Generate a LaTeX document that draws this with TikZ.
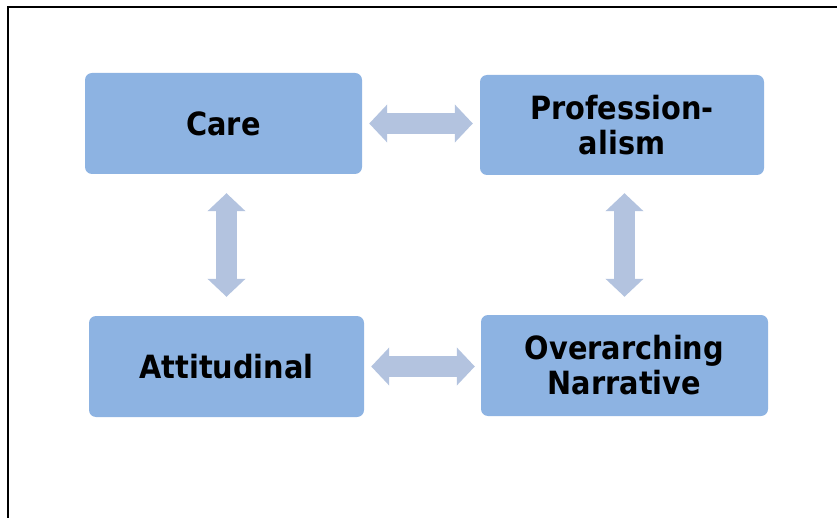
\documentclass[tikz,border=0pt]{standalone}
\usepackage{fontspec}
\setmainfont{DejaVu Sans Condensed}
\usetikzlibrary{arrows.meta}
\definecolor{boxfill}{HTML}{8DB3E2}
\definecolor{arrowfill}{HTML}{B3C3DF}
\tikzset{
  box/.style={rectangle, rounded corners=7pt, fill=boxfill, draw=none,
    align=center, inner sep=0pt,
    font=\fontsize{32}{35}\selectfont\bfseries},
  blockarrow/.style={draw=arrowfill, line width=21pt,
    {Triangle[length=18pt,width=37pt,fill=arrowfill]}-{Triangle[length=18pt,width=37pt,fill=arrowfill]}},
  frameline/.style={draw=black, line width=2pt}
}
\begin{document}
\begin{tikzpicture}[x=1pt,y=-1pt]
\useasboundingbox (0,0) rectangle (837,518);
\draw[frameline] (837,7) -- (8.3,7) -- (8.3,518);
\node[box, minimum width=277pt, minimum height=101pt] (care) at (223.5,123.5) {Care};
\node[box, minimum width=284pt, minimum height=100pt] (prof) at (622,125) {Profession-\\alism};
\node[box, minimum width=275pt, minimum height=101pt] (att) at (226.5,366.5) {Attitudinal};
\node[box, minimum width=287pt, minimum height=101pt] (over) at (624.5,365.5) {Overarching\\Narrative};
\draw[blockarrow, shorten <=7pt, shorten >=7pt] (care.east) -- (care.east -| prof.west);
\draw[blockarrow, shorten <=19pt, shorten >=19pt] (care.south -| att.north) -- (att.north);
\draw[blockarrow, shorten <=18pt, shorten >=18pt] (prof.south -| over.north) -- (over.north);
\draw[blockarrow, shorten <=7pt, shorten >=6pt] (att.east) -- (att.east -| over.west);
\end{tikzpicture}
\end{document}
